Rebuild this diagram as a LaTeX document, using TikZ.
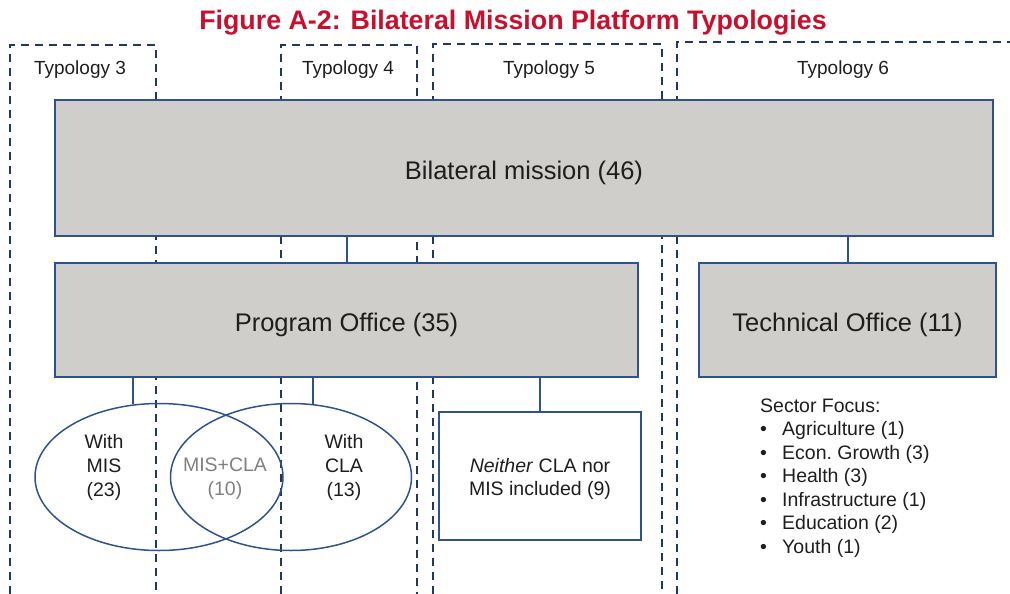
\documentclass[tikz,border=0pt]{standalone}
\usepackage{fontspec}
\setmainfont{Liberation Sans}
\usetikzlibrary{shapes.geometric}

\definecolor{frameblue}{RGB}{31,56,100}
\definecolor{lineblue}{RGB}{47,82,143}
\definecolor{boxgray}{RGB}{208,206,202}
\definecolor{titlered}{RGB}{200,16,46}
\definecolor{textdark}{RGB}{30,30,30}

\begin{document}
\begin{tikzpicture}[
    x=1pt, y=1pt,
    typframe/.style={draw=frameblue, line width=2.4pt, dash pattern=on 8pt off 6pt},
    typlabel/.style={font=\fontsize{19}{23}\selectfont, text=textdark},
    officebox/.style={rectangle, draw=lineblue, line width=1.5pt, fill=boxgray, inner sep=0pt, text height=28pt, text depth=5pt, font=\fontsize{25.5}{30}\selectfont, text=textdark},
    plainbox/.style={rectangle, draw=lineblue, line width=1.5pt, fill=white, inner sep=0pt},
    setshape/.style={ellipse, draw=lineblue, line width=1.5pt, inner sep=0pt, minimum height=147pt},
    settext/.style={align=center, font=\fontsize{19.5}{24}\selectfont, text=textdark},
    link/.style={draw=lineblue, line width=2pt}
]
\useasboundingbox (0,0) rectangle (1010,-594);

% Title
\node[font=\fontsize{26.8}{30}\selectfont\bfseries, text=titlered] (title) at (513,-23) {Figure A-2: Bilateral Mission Platform Typologies};

% Typology frames (open at the bottom)
\draw[typframe] (10,-594) |- (156,-45) -- (156,-594);
\draw[typframe] (281,-594) |- (417,-45) -- (417,-594);
\draw[typframe] (433,-594) |- (662,-44) -- (662,-594);
\draw[typframe] (677,-594) |- (1015,-42);

\node[typlabel] (t3) at (80,-70) {Typology 3};
\node[typlabel] (t4) at (348,-70) {Typology 4};
\node[typlabel] (t5) at (549,-70) {Typology 5};
\node[typlabel] (t6) at (843,-70) {Typology 6};

% Offices
\node[officebox, minimum width=938pt, minimum height=136pt] (bm) at (524,-168) {Bilateral mission (46)};
\node[officebox, minimum width=583pt, minimum height=114pt] (po) at (346.5,-320) {Program Office (35)};
\node[officebox, minimum width=297pt, minimum height=114pt] (to) at (847.5,-320) {Technical Office (11)};

\draw[link] (po.north) -- (po.north |- bm.south);
\draw[link] (to.north) -- (to.north |- bm.south);

% Overlapping sets
\node[setshape, minimum width=248pt] (mis) at (159,-477) {};
\node[setshape, minimum width=241pt] (cla) at (291,-477) {};
\node[settext] (mistext) at (104,-467) {With\\MIS\\(23)};
\node[settext, text=gray] (bothtext) at (225,-479) {MIS+CLA\\(10)};
\node[settext] (clatext) at (344,-467) {With\\CLA\\(13)};

\draw[link] (mis.110) -- (mis.110 |- po.south);
\draw[link] (cla.73) -- (cla.73 |- po.south);

% Neither box
\node[plainbox, minimum width=202pt, minimum height=128pt] (nb) at (540,-476) {};
\node[settext, font=\fontsize{19.5}{23}\selectfont] (nbtext) at (540,-479) {\textit{Neither} CLA nor\\MIS included (9)};
\draw[link] (nb.north) -- (nb.north |- po.south);

% Sector list
\node[anchor=north west, align=left, inner sep=0pt, font=\fontsize{19.5}{23.5}\selectfont, text=textdark] (sectors) at (760,-398.5) {Sector Focus:\\
\makebox[22pt][l]{\textbullet}Agriculture (1)\\
\makebox[22pt][l]{\textbullet}Econ.\ Growth (3)\\
\makebox[22pt][l]{\textbullet}Health (3)\\
\makebox[22pt][l]{\textbullet}Infrastructure (1)\\
\makebox[22pt][l]{\textbullet}Education (2)\\
\makebox[22pt][l]{\textbullet}Youth (1)};

\end{tikzpicture}
\end{document}
